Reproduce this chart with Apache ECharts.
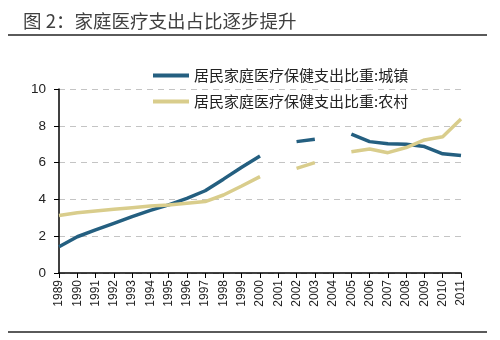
<!DOCTYPE html>
<html>
<head>
<meta charset="utf-8">
<script src="https://cdn.jsdelivr.net/npm/echarts@6/dist/echarts.min.js"></script>
<style>html,body{margin:0;padding:0;background:#fff;}#c{width:500px;height:340px;}</style>
</head>
<body>
<div id="c"></div>
<script>
const years = ['1989','1990','1991','1992','1993','1994','1995','1996','1997','1998','1999','2000','2001','2002','2003','2004','2005','2006','2007','2008','2009','2010','2011'];
const urban = [1.43, 1.97, 2.34, 2.7, 3.06, 3.4, 3.7, 4.06, 4.47, 5.1, 5.75, 6.36, null, 7.14, 7.27, null, 7.55, 7.14, 7.02, 7.0, 6.87, 6.48, 6.38];
const rural = [3.12, 3.28, 3.37, 3.46, 3.55, 3.64, 3.7, 3.79, 3.88, 4.24, 4.73, 5.24, null, 5.69, 6.0, null, 6.59, 6.74, 6.54, 6.82, 7.23, 7.41, 8.37];
const seriesNames = ['居民家庭医疗保健支出比重:城镇', '居民家庭医疗保健支出比重:农村'];
const yTicks = {min: 0, max: 10, interval: 2};
const titleText = '图 2：家庭医疗支出占比逐步提升';

const font = '"Liberation Sans", Arial, "Noto Sans CJK SC", sans-serif';
const chart = echarts.init(document.getElementById('c'), null, {renderer: 'canvas'});
chart.setOption({
  backgroundColor: '#fff',
  animation: false,
  title: {
    text: titleText,
    left: 18, top: 7,
    textStyle: {fontSize: 18.5, fontWeight: 'normal', color: '#404040', fontFamily: '"Noto Sans CJK SC", sans-serif'}
  },
  graphic: [
    {type: 'line', shape: {x1: 8, y1: 35, x2: 487, y2: 35}, style: {stroke: '#5a5a5a', lineWidth: 2}},
    {type: 'line', shape: {x1: 8, y1: 332, x2: 487, y2: 332}, style: {stroke: '#5a5a5a', lineWidth: 2}}
  ],
  legend: {
    orient: 'vertical',
    left: 148, top: 63,
    itemWidth: 36, itemHeight: 4,
    itemGap: 11,
    icon: 'rect',
    textStyle: {fontSize: 15, color: '#222', fontFamily: '"Noto Sans CJK SC", sans-serif'},
    data: seriesNames
  },
  grid: {left: 59, right: 39, top: 89, bottom: 67},
  xAxis: {
    type: 'category',
    data: years,
    boundaryGap: false,
    axisLine: {lineStyle: {color: '#000', width: 1.5}},
    axisTick: {show: true, inside: false, length: 5, alignWithLabel: true, interval: 0, lineStyle: {color: '#000'}},
    axisLabel: {rotate: 90, interval: 0, fontSize: 12, color: '#222', margin: 7, fontFamily: font},
    splitLine: {show: false}
  },
  yAxis: {
    type: 'value',
    min: yTicks.min, max: yTicks.max, interval: yTicks.interval,
    axisLine: {show: true, lineStyle: {color: '#000', width: 1.5}},
    axisTick: {show: true, inside: false, length: 5, lineStyle: {color: '#000'}},
    axisLabel: {fontSize: 13.5, color: '#222', margin: 13, fontFamily: font},
    splitLine: {show: true, lineStyle: {type: [6, 5], color: '#c4c4c4', width: 1}}
  },
  series: [
    {name: seriesNames[0], type: 'line', data: urban, showSymbol: false, symbol: 'none', connectNulls: false,
     lineStyle: {color: '#245f80', width: 3.5}, itemStyle: {color: '#245f80'}},
    {name: seriesNames[1], type: 'line', data: rural, showSymbol: false, symbol: 'none', connectNulls: false,
     lineStyle: {color: '#d9cd8c', width: 3.5}, itemStyle: {color: '#d9cd8c'}}
  ]
});
</script>
</body>
</html>
